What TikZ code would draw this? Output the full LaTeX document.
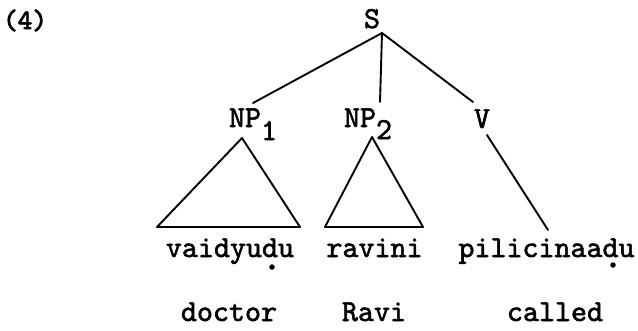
\documentclass[tikz,border=0pt]{standalone}
\usepackage{fontspec}
\newfontfamily\tw{lmmono10-regular.otf}[FakeBold=1.8]
\newfontfamily\twb{lmmono10-regular.otf}[FakeBold=3]
\begin{document}
\begin{tikzpicture}[x=1pt,y=-1pt,
  lbl/.style={inner sep=0pt,outer sep=0pt,anchor=base,font=\fontsize{30.5}{32}\selectfont\tw},
  br/.style={line width=1.9pt,line cap=round,line join=round},
  udot/.style={circle,fill=black,inner sep=0pt,minimum size=5.5pt}]
\useasboundingbox (0,0) rectangle (638,330);
% number
\node[lbl,font=\fontsize{28}{29}\selectfont\twb,anchor=base west] (num) at (3,29) {(4)};
% labels
\node[lbl] (S) at (372,28) {S};
\node[lbl,anchor=base west] (NPa) at (229,127) {NP\raisebox{-13pt}{1}};
\node[lbl,anchor=base west] (NPb) at (344,127) {NP\raisebox{-12pt}{2}};
\node[lbl] (V) at (482,128) {V};
% words
\node[lbl] (w1) at (230,257) {vaidyudu};
\node[lbl] (w2) at (374.5,257) {ravini};
\node[lbl] (w3) at (546.5,257) {pilicinaadu};
\node[udot] (d1) at (272,267) {};
\node[udot] (d2) at (613,265) {};
% glosses
\node[lbl] (g1) at (229,321) {doctor};
\node[lbl] (g2) at (374,321) {Ravi};
\node[lbl] (g3) at (555,321) {called};
% branch points
\coordinate (s0) at (382,33);
\coordinate (e1) at (253,103);
\coordinate (e2) at (380,102);
\coordinate (e3) at (473,102);
\coordinate (t1) at (242,138);
\coordinate (t1l) at (157,227);
\coordinate (t1r) at (300,227);
\coordinate (t2) at (372,137);
\coordinate (t2l) at (325,227);
\coordinate (t2r) at (423,227);
\coordinate (v0) at (487,135);
\coordinate (v1) at (548,230);
\draw[br] (s0) -- (e1);
\draw[br] (s0) -- (e2);
\draw[br] (s0) -- (e3);
\draw[br] (t1) -- (t1l) -- (t1r) -- cycle;
\draw[br] (t2) -- (t2l) -- (t2r) -- cycle;
\draw[br] (v0) -- (v1);
\end{tikzpicture}
\end{document}
